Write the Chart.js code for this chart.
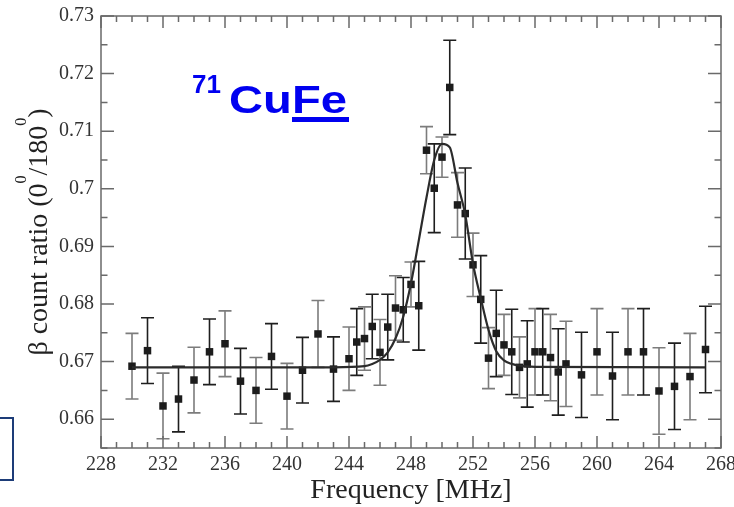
<!DOCTYPE html>
<html>
<head>
<meta charset="utf-8">
<script src="https://cdn.jsdelivr.net/npm/chart.js@4.4.1/dist/chart.umd.min.js"></script>
<style>
  html, body { margin: 0; padding: 0; background: #fff; overflow: hidden; }
  #wrap { position: relative; width: 734px; height: 507px; }
  #box { position: absolute; left: -10px; top: 417px; width: 20px; height: 60px; border: 2px solid #1d3c78; }
</style>
</head>
<body>
<div id="wrap"><canvas id="chart"></canvas><div id="box"></div></div>
<script>
// measured points (MHz, ratio, error)
const freq = [230, 231, 232, 233, 234, 235, 236, 237, 238, 239, 240, 241, 242, 243, 244,
  244.5, 245, 245.5, 246, 246.5, 247, 247.5, 248, 248.5, 249, 249.5, 250, 250.5, 251, 251.5,
  252, 252.5, 253, 253.5, 254, 254.5, 255, 255.5, 256, 256.5, 257, 257.5, 258,
  259, 260, 261, 262, 263, 264, 265, 266, 267];
const ratio = [0.6692, 0.6719, 0.6623, 0.6635, 0.6668, 0.6717, 0.6731, 0.6666, 0.6650, 0.6709, 0.6640, 0.6685, 0.6748, 0.6687, 0.6705,
  0.6734, 0.6740, 0.6761, 0.6716, 0.6760, 0.6793, 0.6790, 0.6834, 0.6797, 0.7067, 0.7001, 0.7055, 0.7176, 0.6972, 0.6957,
  0.6868, 0.6808, 0.6706, 0.6749, 0.6729, 0.6717, 0.6690, 0.6696, 0.6717, 0.6717, 0.6707, 0.6682, 0.6696,
  0.6677, 0.6717, 0.6675, 0.6717, 0.6717, 0.6649, 0.6657, 0.6674, 0.6721];
const errs = [0.0057, 0.0057, 0.0057, 0.0057, 0.0057, 0.0057, 0.0057, 0.0057, 0.0057, 0.0057, 0.0057, 0.0057, 0.0058, 0.0056, 0.0055,
  0.0058, 0.0055, 0.0056, 0.0057, 0.0057, 0.0056, 0.0056, 0.0039, 0.0077, 0.0041, 0.0077, 0.0035, 0.0082, 0.0056, 0.0079,
  0.0055, 0.0076, 0.0053, 0.0075, 0.0053, 0.0074, 0.0053, 0.0075, 0.0075, 0.0075, 0.0075, 0.0075, 0.0074,
  0.0074, 0.0075, 0.0076, 0.0075, 0.0075, 0.0075, 0.0075, 0.0075, 0.0075];

// fitted curve
const fitFreq = [230, 243, 245, 245.5, 246, 246.5, 247, 247.5, 248, 248.5, 249, 249.5, 250, 250.5,
  251, 251.5, 252, 252.5, 253, 253.5, 254, 254.5, 255, 256, 267];
const fitRatio = [0.6690, 0.6690, 0.6692, 0.6696, 0.6703, 0.6716, 0.6740, 0.6778, 0.6836, 0.6910, 0.6985, 0.7050, 0.7078, 0.7072,
  0.7010, 0.6955, 0.6870, 0.6810, 0.6755, 0.6718, 0.6702, 0.6696, 0.6693, 0.6691, 0.6690];

const xTicks = [228, 232, 236, 240, 244, 248, 252, 256, 260, 264, 268];
const yTicks = [0.66, 0.67, 0.68, 0.69, 0.70, 0.71, 0.72, 0.73];

const serif = '"Liberation Serif", "Times New Roman", serif';

const errorBars = {
  id: 'errorBars',
  beforeDatasetsDraw(chart) {
    const { ctx, scales: { x, y } } = chart;
    ctx.save();
    ctx.lineWidth = 1.6;
    freq.forEach((f, i) => {
      const px = x.getPixelForValue(f);
      const top = y.getPixelForValue(ratio[i] + errs[i]);
      const bot = y.getPixelForValue(ratio[i] - errs[i]);
      ctx.strokeStyle = i % 2 ? '#1e1e1e' : '#7c7c7c';
      ctx.beginPath();
      ctx.moveTo(px, top); ctx.lineTo(px, bot);
      ctx.moveTo(px - 6.5, top); ctx.lineTo(px + 6.5, top);
      ctx.moveTo(px - 6.5, bot); ctx.lineTo(px + 6.5, bot);
      ctx.stroke();
    });
    ctx.restore();
  }
};

const frame = {
  id: 'frame',
  afterDraw(chart) {
    const { ctx, chartArea: a, scales: { x, y } } = chart;
    ctx.save();
    ctx.strokeStyle = '#6a6a6a';
    ctx.lineWidth = 1.5;
    ctx.strokeRect(a.left, a.top, a.right - a.left, a.bottom - a.top);
    ctx.beginPath();
    for (let v = x.min; v <= x.max; v++) {
      const px = x.getPixelForValue(v);
      const len = (v - x.min) % 4 === 0 ? 12 : 6;
      ctx.moveTo(px, a.bottom); ctx.lineTo(px, a.bottom - len);
      ctx.moveTo(px, a.top); ctx.lineTo(px, a.top + len);
    }
    for (let k = 0; k <= 15; k++) {
      const py = y.getPixelForValue(y.min + k * 0.005);
      const len = k % 2 ? 13 : 6.5;
      ctx.moveTo(a.left, py); ctx.lineTo(a.left + len, py);
      ctx.moveTo(a.right, py); ctx.lineTo(a.right - len, py);
    }
    ctx.stroke();

    // y title with raised zeros
    const big = '28px ' + serif, small = '16px ' + serif;
    const parts = [['\u03b2 count ratio (0', big, 0], ['0', small, 21], ['/180', big, 0], ['0', small, 21], [')', big, 0]];
    let total = 0;
    parts.forEach(p => { ctx.font = p[1]; p.push(ctx.measureText(p[0]).width); total += p[3]; });
    ctx.save();
    ctx.translate(47, (a.top + a.bottom) / 2);
    ctx.rotate(-Math.PI / 2);
    ctx.fillStyle = '#222';
    ctx.textBaseline = 'alphabetic';
    let cx = -total / 2;
    parts.forEach(p => { ctx.font = p[1]; ctx.fillText(p[0], cx, -p[2]); cx += p[3]; });
    ctx.restore();

    // 71CuFe tag
    ctx.fillStyle = '#0000f0';
    ctx.textBaseline = 'alphabetic';
    ctx.font = 'bold 26px "Liberation Sans", Arial, sans-serif';
    ctx.fillText('71', 192, 93);
    ctx.font = 'bold 39px "Liberation Sans", Arial, sans-serif';
    const w = ctx.measureText('CuFe').width;
    ctx.save();
    ctx.translate(229, 113);
    ctx.scale(118 / w, 1);
    ctx.fillText('CuFe', 0, 0);
    ctx.restore();
    ctx.fillRect(292, 117, 57, 5);
    ctx.restore();
  }
};

const ctx = document.getElementById('chart').getContext('2d');
new Chart(ctx, {
  type: 'scatter',
  data: {
    datasets: [
      {
        type: 'line', label: 'fit', order: 0,
        data: fitFreq.map((f, i) => ({ x: f, y: fitRatio[i] })),
        borderColor: '#2b2b2b', borderWidth: 2.2, pointRadius: 0,
        cubicInterpolationMode: 'monotone', fill: false
      },
      {
        label: 'data', order: 1,
        data: freq.map((f, i) => ({ x: f, y: ratio[i] })),
        pointStyle: 'rect', pointRadius: 5.3, backgroundColor: '#1c1c1c', borderWidth: 0
      }
    ]
  },
  options: {
    animation: false, responsive: true, maintainAspectRatio: false,
    layout: { padding: { left: 0, right: 13, top: 16, bottom: 0 } },
    plugins: { legend: { display: false }, tooltip: { enabled: false } },
    scales: {
      x: {
        type: 'linear', min: 228, max: 268,
        afterBuildTicks: s => { s.ticks = xTicks.map(v => ({ value: v })); },
        afterFit: s => { s.height = 59; s.paddingLeft = 0; s.paddingRight = 0; },
        grid: { display: false, drawTicks: false }, border: { display: false },
        ticks: { padding: 5, color: '#333', autoSkip: false, maxRotation: 0, font: { family: serif, size: 20 } },
        title: { display: true, text: 'Frequency [MHz]', color: '#222', padding: 0, font: { family: serif, size: 28 } }
      },
      y: {
        type: 'linear', min: 0.655, max: 0.73,
        afterBuildTicks: s => { s.ticks = yTicks.map(v => ({ value: v })); },
        afterFit: s => { s.width = 101; s.paddingTop = 0; s.paddingBottom = 0; },
        grid: { display: false, drawTicks: false }, border: { display: false },
        ticks: { padding: 7, color: '#333', font: { family: serif, size: 20 }, callback: v => String(+v.toFixed(2)) }
      }
    }
  },
  plugins: [errorBars, frame]
});
</script>
</body>
</html>
